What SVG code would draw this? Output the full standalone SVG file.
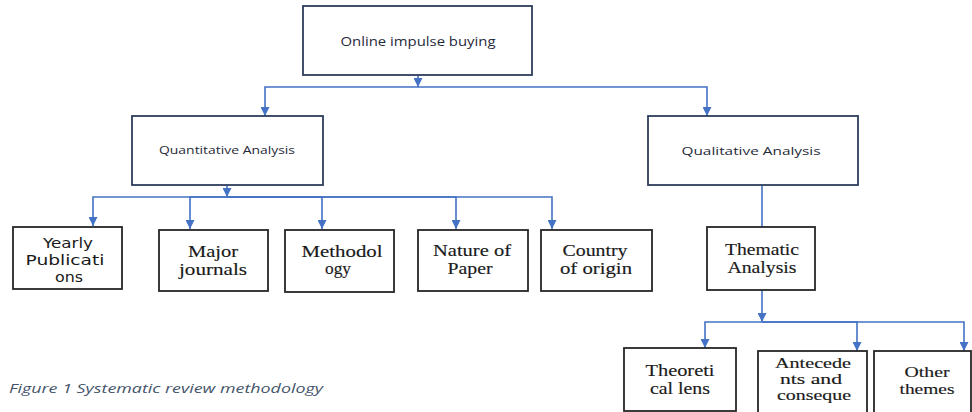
<svg xmlns="http://www.w3.org/2000/svg" width="972" height="412" viewBox="0 0 972 412">
<style>
.bg{fill:#fff}
.nb{fill:#fff;stroke:#2f3d5c;stroke-width:1.8}
.kb{fill:#fff;stroke:#262626;stroke-width:1.8}
.c{fill:none;stroke:#4472c4;stroke-width:1.6}
.sans{font-family:"Open Sans","Liberation Sans",sans-serif;fill:#1f2a3a;text-anchor:middle}
.ver{font-family:"DejaVu Sans","Liberation Sans",sans-serif;font-size:14px;fill:#1a1a1a;text-anchor:middle}
.ser{font-family:"Liberation Serif","DejaVu Serif",serif;font-size:16px;fill:#1a1a1a;text-anchor:middle;stroke:#1a1a1a;stroke-width:0.15}
.sm{font-size:14px}
.cap{font-family:"Open Sans","Liberation Sans",sans-serif;font-style:italic;font-size:12px;fill:#44546a}
</style>
<defs>
<marker id="ah" viewBox="0 0 10 10" refX="10" refY="5" markerWidth="9" markerHeight="9" markerUnits="userSpaceOnUse" orient="auto">
<path d="M0,0 L10,5 L0,10 z" fill="#4472c4"/>
</marker>
</defs>
<rect class="bg" x="0" y="0" width="972" height="412"/>
<g id="connectors">
<path class="c" d="M418 75 V87" marker-end="url(#ah)"/>
<path class="c" d="M418 87 H265 V116" marker-end="url(#ah)"/>
<path class="c" d="M418 87 H707 V116" marker-end="url(#ah)"/>
<path class="c" d="M227 185 V197" marker-end="url(#ah)"/>
<path class="c" d="M227 197 H93 V226" marker-end="url(#ah)"/>
<path class="c" d="M227 197 H190 V229" marker-end="url(#ah)"/>
<path class="c" d="M227 197 H322 V229" marker-end="url(#ah)"/>
<path class="c" d="M227 197 H456 V229" marker-end="url(#ah)"/>
<path class="c" d="M227 197 H552 V229" marker-end="url(#ah)"/>
<path class="c" d="M762 185 V227"/>
<path class="c" d="M762 290 V322" marker-end="url(#ah)"/>
<path class="c" d="M762 322 H705 V348" marker-end="url(#ah)"/>
<path class="c" d="M762 322 H857 V351" marker-end="url(#ah)"/>
<path class="c" d="M762 322 H964 V351" marker-end="url(#ah)"/>
</g>
<g id="online">
<rect class="nb" x="303" y="6" width="229" height="69"/>
<text class="sans" x="418" y="46" font-size="12" textLength="155" lengthAdjust="spacingAndGlyphs">Online impulse buying</text>
</g>
<g id="quant">
<rect class="nb" x="132" y="116" width="191" height="69"/>
<text class="sans" x="227" y="154" font-size="10" textLength="136" lengthAdjust="spacingAndGlyphs">Quantitative Analysis</text>
</g>
<g id="qual">
<rect class="nb" x="648" y="116" width="210" height="69"/>
<text class="sans" x="751" y="155" font-size="11" textLength="139" lengthAdjust="spacingAndGlyphs">Qualitative Analysis</text>
</g>
<g id="yearly">
<rect class="kb" x="13" y="227" width="109" height="62"/>
<text class="ver" x="68" y="248" textLength="50" lengthAdjust="spacingAndGlyphs">Yearly</text>
<text class="ver" x="65" y="265" textLength="79" lengthAdjust="spacingAndGlyphs">Publicati</text>
<text class="ver" x="69" y="282" textLength="28" lengthAdjust="spacingAndGlyphs">ons</text>
</g>
<g id="major">
<rect class="kb" x="159" y="230" width="109" height="61"/>
<text class="ser" x="213" y="257" textLength="50" lengthAdjust="spacingAndGlyphs">Major</text>
<text class="ser" x="213" y="275" textLength="68" lengthAdjust="spacingAndGlyphs">journals</text>
</g>
<g id="method">
<rect class="kb" x="285" y="230" width="109" height="62"/>
<text class="ser" x="342" y="257" textLength="81" lengthAdjust="spacingAndGlyphs">Methodol</text>
<text class="ser" x="338" y="274" textLength="26" lengthAdjust="spacingAndGlyphs">ogy</text>
</g>
<g id="nature">
<rect class="kb" x="418" y="230" width="110" height="61"/>
<text class="ser" x="472" y="256" textLength="78" lengthAdjust="spacingAndGlyphs">Nature of</text>
<text class="ser" x="470" y="274" textLength="45" lengthAdjust="spacingAndGlyphs">Paper</text>
</g>
<g id="country">
<rect class="kb" x="541" y="230" width="111" height="61"/>
<text class="ser" x="595" y="256" textLength="65" lengthAdjust="spacingAndGlyphs">Country</text>
<text class="ser" x="596" y="274" textLength="72" lengthAdjust="spacingAndGlyphs">of origin</text>
</g>
<g id="thematic">
<rect class="kb" x="707" y="227" width="108" height="63"/>
<text class="ser" x="762" y="255" textLength="74" lengthAdjust="spacingAndGlyphs">Thematic</text>
<text class="ser" x="762" y="273" textLength="69" lengthAdjust="spacingAndGlyphs">Analysis</text>
</g>
<g id="theoretical">
<rect class="kb" x="624" y="348" width="112" height="63"/>
<text class="ser" x="680" y="376" textLength="69" lengthAdjust="spacingAndGlyphs">Theoreti</text>
<text class="ser" x="680" y="394" textLength="60" lengthAdjust="spacingAndGlyphs">cal lens</text>
</g>
<g id="antecedents">
<rect class="kb" x="758" y="351" width="109" height="64"/>
<text class="ser sm" x="813" y="368" textLength="76" lengthAdjust="spacingAndGlyphs">Antecede</text>
<text class="ser sm" x="811" y="384" textLength="62" lengthAdjust="spacingAndGlyphs">nts and</text>
<text class="ser sm" x="814" y="400" textLength="74" lengthAdjust="spacingAndGlyphs">conseque</text>
</g>
<g id="other">
<rect class="kb" x="874" y="351" width="97" height="64"/>
<text class="ser sm" x="927" y="377" textLength="45" lengthAdjust="spacingAndGlyphs">Other</text>
<text class="ser sm" x="927" y="394" textLength="55" lengthAdjust="spacingAndGlyphs">themes</text>
</g>
<text class="cap" x="9" y="393" textLength="314" lengthAdjust="spacingAndGlyphs">Figure 1 Systematic review methodology</text>
</svg>
